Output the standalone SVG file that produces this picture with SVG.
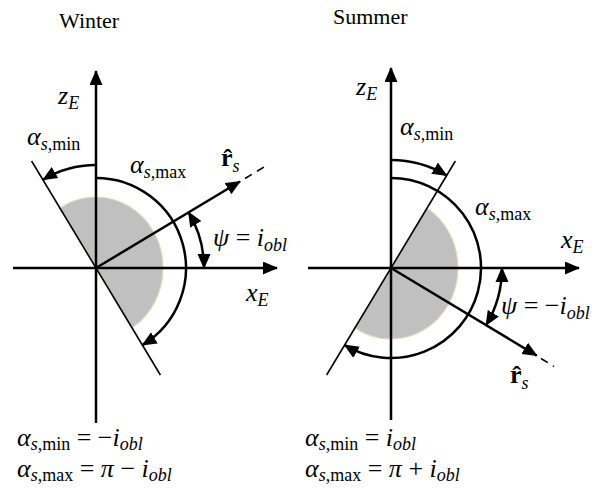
<svg xmlns="http://www.w3.org/2000/svg" width="592" height="488" viewBox="0 0 592 488">
<style>
.ax{stroke:#000;stroke-width:2.5;fill:none}
.tl{stroke:#000;stroke-width:1.6;fill:none}
.dash{stroke:#000;stroke-width:1.6;fill:none;stroke-dasharray:8 6}
.arc{stroke:#000;stroke-width:2.5;fill:none}
.sh{fill:#c0c0c0;stroke:#e2dcb8;stroke-width:1.2}
text{font-family:"Liberation Serif","Times New Roman",serif;font-size:26px;fill:#000}
.ttl{font-size:22px}
.i{font-style:italic}
.s{font-size:18px}
.b{font-weight:bold}
</style>
<defs>
<marker id="ah" markerUnits="userSpaceOnUse" markerWidth="16" markerHeight="14" refX="14" refY="6.5" orient="auto-start-reverse">
<path d="M0,0 L15,6.5 L0,13 z" fill="#000"/>
</marker>
</defs>

<g id="winter">
<g id="w-shade"><path class="sh" d="M96 268 L60 208.1 A67 71 0 0 1 163 268 A67 71 0 0 1 132 327.9 Z"/></g>
<g id="w-connectors">
<line class="ax" x1="96" y1="423" x2="96" y2="71" marker-end="url(#ah)"/>
<line class="ax" x1="13" y1="268" x2="277" y2="268" marker-end="url(#ah)"/>
<line class="tl" x1="31.6" y1="161" x2="160.4" y2="375"/>
<line class="ax" x1="96" y1="268" x2="240" y2="181.5" marker-end="url(#ah)"/>
<line class="dash" x1="245" y1="178.5" x2="264" y2="167"/>
<path class="arc" d="M96 178 A90 90 0 0 1 142.4 345.1" marker-end="url(#ah)"/>
<path class="arc" d="M96 165 A103 103 0 0 0 43 179.7" marker-end="url(#ah)"/>
<path class="arc" d="M188.6 212.4 A108 108 0 0 1 204 268" marker-start="url(#ah)" marker-end="url(#ah)"/>
</g>
<g id="w-labels">
<text class="ttl" x="59" y="28">Winter</text>
<text x="58" y="104"><tspan class="i">z</tspan><tspan class="i s" dy="5">E</tspan></text>
<text x="27" y="145"><tspan class="i">α</tspan><tspan class="i s" dy="5">s</tspan><tspan class="s">,min</tspan></text>
<text x="130" y="173"><tspan class="i">α</tspan><tspan class="i s" dy="5">s</tspan><tspan class="s">,max</tspan></text>
<text x="221" y="166"><tspan class="b">r&#x302;</tspan><tspan class="i s" dy="6">s</tspan></text>
<text x="213" y="246"><tspan class="i">ψ</tspan> = <tspan class="i">i</tspan><tspan class="i s" dy="5">obl</tspan></text>
<text x="246" y="301"><tspan class="i">x</tspan><tspan class="i s" dy="5">E</tspan></text>
<text x="17" y="446"><tspan class="i">α</tspan><tspan class="i s" dy="4">s</tspan><tspan class="s">,min</tspan><tspan dy="-4"> = −</tspan><tspan class="i">i</tspan><tspan class="i s" dy="4">obl</tspan></text>
<text x="17" y="477"><tspan class="i">α</tspan><tspan class="i s" dy="4">s</tspan><tspan class="s">,max</tspan><tspan dy="-4"> = </tspan><tspan class="i">π</tspan> − <tspan class="i">i</tspan><tspan class="i s" dy="4">obl</tspan></text>
</g>
</g>

<g id="summer">
<g id="s-shade"><path class="sh" d="M391 268 L427 208.1 A67 71 0 0 1 458 268 A67 71 0 0 1 355 327.9 Z"/></g>
<g id="s-connectors">
<line class="ax" x1="391" y1="420" x2="391" y2="68" marker-end="url(#ah)"/>
<line class="ax" x1="308" y1="268" x2="579" y2="268" marker-end="url(#ah)"/>
<line class="tl" x1="455.4" y1="161" x2="326.6" y2="375"/>
<line class="ax" x1="391" y1="268" x2="536.7" y2="355.6" marker-end="url(#ah)"/>
<line class="dash" x1="541" y1="358.5" x2="554" y2="366.5"/>
<path class="arc" d="M391 160 A108 108 0 0 1 446.6 175.4" marker-end="url(#ah)"/>
<path class="arc" d="M391 178 A90 90 0 1 1 344.6 345.1" marker-end="url(#ah)"/>
<path class="arc" d="M502 268 A111 111 0 0 1 486.1 325.2" marker-start="url(#ah)" marker-end="url(#ah)"/>
</g>
<g id="s-labels">
<text class="ttl" x="333" y="24">Summer</text>
<text x="356" y="95"><tspan class="i">z</tspan><tspan class="i s" dy="5">E</tspan></text>
<text x="400" y="135"><tspan class="i">α</tspan><tspan class="i s" dy="5">s</tspan><tspan class="s">,min</tspan></text>
<text x="475" y="215"><tspan class="i">α</tspan><tspan class="i s" dy="5">s</tspan><tspan class="s">,max</tspan></text>
<text x="561" y="248"><tspan class="i">x</tspan><tspan class="i s" dy="5">E</tspan></text>
<text x="501" y="314"><tspan class="i">ψ</tspan> = −<tspan class="i">i</tspan><tspan class="i s" dy="5">obl</tspan></text>
<text x="510" y="383"><tspan class="b">r&#x302;</tspan><tspan class="i s" dy="6">s</tspan></text>
<text x="305" y="446"><tspan class="i">α</tspan><tspan class="i s" dy="4">s</tspan><tspan class="s">,min</tspan><tspan dy="-4"> = </tspan><tspan class="i">i</tspan><tspan class="i s" dy="4">obl</tspan></text>
<text x="305" y="477"><tspan class="i">α</tspan><tspan class="i s" dy="4">s</tspan><tspan class="s">,max</tspan><tspan dy="-4"> = </tspan><tspan class="i">π</tspan> + <tspan class="i">i</tspan><tspan class="i s" dy="4">obl</tspan></text>
</g>
</g>
</svg>
